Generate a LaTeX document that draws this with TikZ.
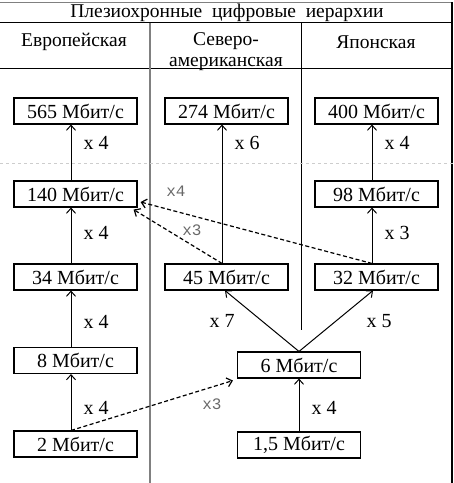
\documentclass[tikz,border=0pt]{standalone}
\usepackage{fontspec}
\setmainfont{Liberation Serif}
\newfontfamily\monofnt{Liberation Mono}
\usepackage{tikz}
\usetikzlibrary{positioning, arrows.meta}
\definecolor{sepGray}{RGB}{128,128,128}
\definecolor{lblGray}{RGB}{105,105,105}
\definecolor{faintGray}{RGB}{205,205,205}

\tikzset{
  rate/.style={draw, line width=1.1pt, minimum width=123pt, minimum height=26pt,
    inner sep=0pt, font=\fontsize{20}{22}\selectfont},
  hdr/.style={font=\fontsize{19.5}{21}\selectfont, align=center},
  mux/.style={-{Straight Barb[length=5pt, width=9pt]}, line width=1pt},
  muxlbl/.style={font=\fontsize{20}{22}\selectfont, inner sep=0pt},
  cross/.style={-{Straight Barb[length=5pt, width=9pt]}, dash pattern=on 4pt off 2.5pt, line width=1.2pt},
  crosslbl/.style={text=lblGray, font=\monofnt\fontsize{16}{17}\selectfont, inner sep=0pt}
}

\begin{document}
\begin{tikzpicture}[x=1pt, y=-1pt]
  \useasboundingbox (0,0) rectangle (454,483);
  % table frame
  \draw[sepGray, line width=1pt] (0,2) -- (452,2);
  \draw[line width=0.9pt] (0,22.5) -- (452,22.5);
  \draw[line width=0.9pt] (0,68) -- (452,68);
  \draw[line width=1.3pt] (452,2) -- (452,483);
  \draw[sepGray, line width=1.2pt] (150,22.5) -- (150,483);
  \draw[line width=1pt] (301,22.5) -- (301,330);
  \draw[faintGray, dashed, line width=0.6pt] (0,163) -- (454,163);

  \node[hdr] (title) at (227,13) {Плезиохронные\ \ цифровые\ \ иерархии};
  \node[hdr] (eu) at (74,42) {Европейская};
  \node[hdr] (na) at (226,52) {Северо-\\американская};
  \node[hdr] (jp) at (376,42) {Японская};

  % european
  \node[rate] (e565) at (75.5,111) {565 Мбит/с};
  \node[rate] (e140) at (75.5,194) {140 Мбит/с};
  \node[rate] (e34) at (75.5,277) {34 Мбит/с};
  \node[rate] (e8) at (75.5,360.5) {8 Мбит/с};
  \node[rate] (e2) at (75.5,444) {2 Мбит/с};
  % north american
  \node[rate] (a274) at (226.5,111) {274 Мбит/с};
  \node[rate] (a45) at (226.5,277) {45 Мбит/с};
  \node[rate] (a6) at (299,365) {6 Мбит/с};
  \node[rate] (a15) at (299,445) {1,5 Мбит/с};
  % japanese
  \node[rate] (j400) at (376.5,111) {400 Мбит/с};
  \node[rate] (j98) at (376.5,194) {98 Мбит/с};
  \node[rate] (j32) at (376.5,277) {32 Мбит/с};

  \draw[mux] ([xshift=-4.5pt]e140.north) -- ([xshift=-4.5pt]e565.south) node[pos=0.68, right=12pt, muxlbl] {x 4};
  \draw[mux] ([xshift=-4.5pt]e34.north) -- ([xshift=-4.5pt]e140.south) node[pos=0.54, right=12pt, muxlbl] {x 4};
  \draw[mux] ([xshift=-4.5pt]e8.north) -- ([xshift=-4.5pt]e34.south) node[pos=0.44, right=12pt, muxlbl] {x 4};
  \draw[mux] ([xshift=-4.5pt]e2.north) -- ([xshift=-4.5pt]e8.south) node[pos=0.4, right=12pt, muxlbl] {x 4};

  \draw[mux] ([xshift=-4.5pt]a45.north) -- ([xshift=-4.5pt]a274.south) node[pos=0.87, right=12pt, muxlbl] {x 6};
  \draw[mux] (a6.north) -- ([xshift=-1.5pt]a45.south) node[midway, left=27pt, muxlbl] {x 7};
  \draw[mux] (a6.north) -- ([xshift=-3.5pt]j32.south) node[midway, right=30pt, muxlbl] {x 5};
  \draw[mux] (a15.north) -- (a6.south) node[pos=0.44, right=12pt, muxlbl] {x 4};

  \draw[mux] ([xshift=-4.5pt]j98.north) -- ([xshift=-4.5pt]j400.south) node[pos=0.68, right=12pt, muxlbl] {x 4};
  \draw[mux] ([xshift=-4.5pt]j32.north) -- ([xshift=-4.5pt]j98.south) node[pos=0.54, right=12pt, muxlbl] {x 3};

  % cross-hierarchy links
  \draw[cross] ([xshift=-4.5pt]e2.north) -- ([xshift=-4pt,yshift=-2pt]a6.south west);
  \draw[cross] ([xshift=-4.5pt]a45.north) -- ([xshift=-4pt,yshift=-2pt]e140.south east);
  \draw[cross] ([xshift=-4.5pt]j32.north) -- ([xshift=3pt,yshift=-8pt]e140.east);
  \node[crosslbl] (l24) at (212,404) {x3};
  \node[crosslbl] (l45) at (192,230) {x3};
  \node[crosslbl] (l32) at (176,191) {x4};
\end{tikzpicture}
\end{document}
